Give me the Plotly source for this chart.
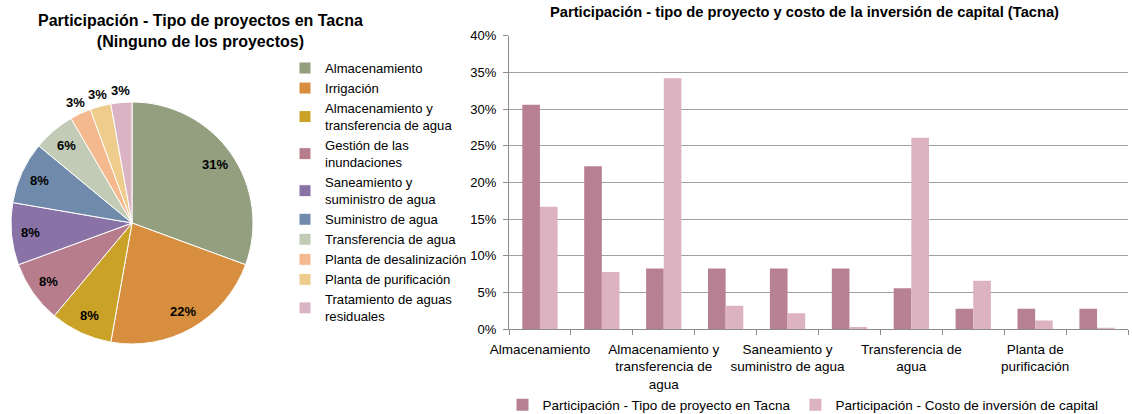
import math
import plotly.graph_objects as go

# Project types in Tacna
categories = [
    "Almacenamiento",
    "Irrigación",
    "Almacenamiento y transferencia de agua",
    "Gestión de las inundaciones",
    "Saneamiento y suministro de agua",
    "Suministro de agua",
    "Transferencia de agua",
    "Planta de desalinización",
    "Planta de purificación",
    "Tratamiento de aguas residuales",
]

# Legend labels (wrapped) for the pie
pie_legend_labels = [
    "Almacenamiento",
    "Irrigación",
    "Almacenamiento y<br>transferencia de agua",
    "Gestión de las<br>inundaciones",
    "Saneamiento y<br>suministro de agua",
    "Suministro de agua",
    "Transferencia de agua",
    "Planta de desalinización",
    "Planta de purificación",
    "Tratamiento de aguas<br>residuales",
]

# Share of projects by type (%)
share_projects = [30.6, 22.2, 8.3, 8.3, 8.3, 8.3, 5.6, 2.8, 2.8, 2.8]
# Share of capital investment cost by type (%)
share_cost = [16.7, 7.8, 34.2, 3.2, 2.2, 0.3, 26.1, 6.6, 1.2, 0.2]

# Category-axis tick labels (every other category labelled)
bar_tick_labels = [
    "Almacenamiento",
    "",
    "Almacenamiento y<br>transferencia de<br>agua",
    "",
    "Saneamiento y<br>suministro de agua",
    "",
    "Transferencia de<br>agua",
    "",
    "Planta de<br>purificación",
    "",
]

pie_colors = [
    "#939F7F", "#D78F3F", "#C9A227", "#B87D8D", "#8872A6",
    "#6F8AAB", "#C2CBB5", "#F4B98E", "#EECD8C", "#DBB4C4",
]
series_names = [
    "Participación - Tipo de proyecto en Tacna",
    "Participación - Costo de inversión de capital",
]
bar_colors = ["#B88093", "#DDB3C1"]

FONT = "Liberation Sans, Arial, sans-serif"
W, H = 1132, 414

# Pie placement (pixels) and label radii as fractions of the radius
PIE_CX, PIE_CY, PIE_R = 132, 223, 121
INSIDE_R, OUTSIDE_R = 0.84, 1.10
N_INSIDE = 7

fig = go.Figure()

fig.add_trace(go.Pie(
    labels=pie_legend_labels,
    values=share_projects,
    sort=False,
    direction="clockwise",
    rotation=0,
    marker=dict(colors=pie_colors, line=dict(color="white", width=1)),
    textinfo="none",
    domain=dict(
        x=[(PIE_CX - PIE_R) / W, (PIE_CX + PIE_R) / W],
        y=[(H - PIE_CY - PIE_R) / H, (H - PIE_CY + PIE_R) / H],
    ),
    legend="legend",
    hoverinfo="label+percent",
))

# Percentage labels placed at each slice's mid-angle (clockwise from 12 o'clock)
total = sum(share_projects)
pie_labels = []
cum = 0.0
for i, v in enumerate(share_projects):
    mid = (cum + v / 2) / total
    cum += v
    theta = 2 * math.pi * mid
    rf = INSIDE_R if i < N_INSIDE else OUTSIDE_R
    px = PIE_CX + rf * PIE_R * math.sin(theta)
    py = PIE_CY - rf * PIE_R * math.cos(theta)
    pie_labels.append(dict(
        text=f"<b>{v / total:.0%}</b>",
        x=px / W, y=1 - py / H, xref="paper", yref="paper",
        xanchor="center", yanchor="middle", showarrow=False,
        font=dict(family=FONT, size=13, color="black"),
    ))

for name, vals, col in zip(series_names, [share_projects, share_cost], bar_colors):
    fig.add_trace(go.Bar(
        x=categories,
        y=vals,
        name=name,
        marker=dict(color=col, line=dict(width=0)),
        legend="legend2",
        xaxis="x",
        yaxis="y",
    ))

fig.update_layout(
    width=W,
    height=H,
    margin=dict(l=0, r=0, t=0, b=0, autoexpand=False),
    paper_bgcolor="white",
    plot_bgcolor="white",
    font=dict(family=FONT, size=12, color="black"),
    barmode="group",
    bargap=0.43,
    bargroupgap=0,
    xaxis=dict(
        domain=[509 / W, 1128 / W],
        type="category",
        tickmode="array",
        tickvals=categories,
        ticktext=bar_tick_labels,
        tickson="boundaries",
        tickangle=0,
        ticks="outside",
        ticklen=5,
        tickcolor="#8C8C8C",
        ticklabelstandoff=7,
        showline=True,
        linecolor="#8C8C8C",
        linewidth=1,
        showgrid=False,
        automargin=False,
        tickfont=dict(family=FONT, size=13.5, color="black"),
        fixedrange=True,
    ),
    yaxis=dict(
        domain=[(H - 329.3) / H, (H - 35.7) / H],
        range=[0, 40],
        dtick=5,
        ticksuffix="%",
        ticks="outside",
        ticklen=5,
        tickcolor="#8C8C8C",
        ticklabelstandoff=4,
        showline=True,
        linecolor="#8C8C8C",
        showgrid=True,
        gridcolor="#A0A0A0",
        gridwidth=1,
        zeroline=False,
        automargin=False,
        tickfont=dict(family=FONT, size=13, color="black"),
        fixedrange=True,
    ),
    legend=dict(
        x=285 / W,
        y=1 - 53 / H,
        xanchor="left",
        yanchor="top",
        font=dict(family=FONT, size=13.1, color="black"),
        itemwidth=30,
        tracegroupgap=0,
        bgcolor="rgba(0,0,0,0)",
    ),
    legend2=dict(
        orientation="h",
        x=803 / W,
        y=1 - 405 / H,
        xanchor="center",
        yanchor="middle",
        font=dict(family=FONT, size=13.5, color="black"),
        itemwidth=30,
        bgcolor="rgba(0,0,0,0)",
    ),
    annotations=[
        dict(
            text="<b>Participación - Tipo de proyectos en Tacna<br>(Ninguno de los proyectos)</b>",
            x=200 / W, y=1 - 31 / H, xref="paper", yref="paper",
            xanchor="center", yanchor="middle", showarrow=False,
            font=dict(family=FONT, size=16, color="black"),
        ),
        dict(
            text="<b>Participación - tipo de proyecto y costo de la inversión de capital (Tacna)</b>",
            x=805 / W, y=1 - 12 / H, xref="paper", yref="paper",
            xanchor="center", yanchor="middle", showarrow=False,
            font=dict(family=FONT, size=14.7, color="black"),
        ),
    ] + pie_labels,
)

fig.write_html("out.html")
